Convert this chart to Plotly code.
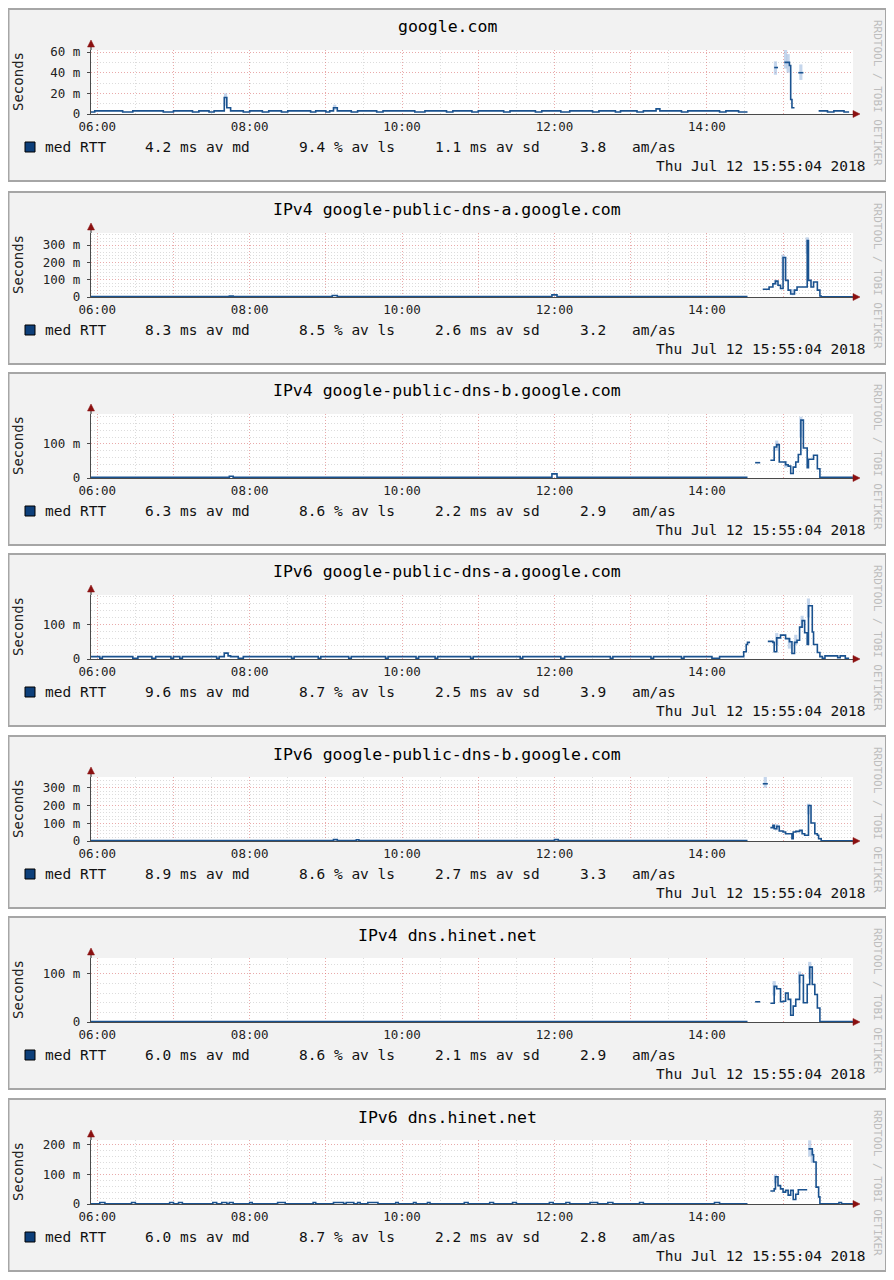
import pandas as pd
import plotly.graph_objects as go

DAY = "2018-07-12 "
X_START = DAY + "05:55:04"
X_END = DAY + "15:55:04"

titles = [
    "google.com",
    "IPv4 google-public-dns-a.google.com",
    "IPv4 google-public-dns-b.google.com",
    "IPv6 google-public-dns-a.google.com",
    "IPv6 google-public-dns-b.google.com",
    "IPv4 dns.hinet.net",
    "IPv6 dns.hinet.net",
]
stat_md = ["4.2", "8.3", "6.3", "9.6", "8.9", "6.0", "6.0"]
stat_ls = ["9.4", "8.5", "8.6", "8.7", "8.6", "8.6", "8.7"]
stat_sd = ["1.1", "2.6", "2.2", "2.5", "2.7", "2.1", "2.2"]
stat_amas = ["3.8", "3.2", "2.9", "3.9", "3.3", "2.9", "2.8"]
stamp = "Thu Jul 12 15:55:04 2018"

y_max = [62, 370, 188, 185, 360, 133, 216]
y_ticks = [[0, 20, 40, 60], [0, 100, 200, 300], [0, 100], [0, 100],
           [0, 100, 200, 300], [0, 100], [0, 100, 200]]
y_minor = [10, 20, 20, 20, 20, 20, 20]
x_hours = ["06:00", "07:00", "08:00", "09:00", "10:00", "11:00", "12:00",
           "13:00", "14:00", "15:00"]
x_labels = ["06:00", "", "08:00", "", "10:00", "", "12:00", "", "14:00", ""]

# ---- median RTT (ms), change points; None = no data ----
p1_t = ["05:55", "05:58", "06:20", "06:28", "06:52", "07:00", "07:15", "07:20", "07:28", "07:32",
        "07:40", "07:42", "07:45", "07:55", "08:00", "08:10", "08:15", "08:25", "08:30", "08:48",
        "08:52", "09:00", "09:03", "09:06", "09:09", "09:20", "09:25", "09:40", "09:45", "10:10",
        "10:18", "10:35", "10:40", "10:55", "11:00", "11:20", "11:25", "11:45", "11:50", "12:05",
        "12:12", "12:30", "12:35", "12:48", "12:52", "13:05", "13:10", "13:20", "13:23", "13:40",
        "13:45", "14:10", "14:15", "14:25", "14:32", "14:53", "14:56", "15:01", "15:05", "15:06",
        "15:07", "15:09", "15:12", "15:16", "15:28", "15:35", "15:40", "15:48", "15:52"]
p1_v = [2, 3, 2, 3, 2, 3, 2, 3, 2, 3,
        16, 6, 3, 2, 3, 2, 3, 2, 3, 2,
        3, 2, 3, 6, 3, 2, 3, 2, 3, 2,
        3, 2, 3, 2, 3, 2, 3, 2, 3, 2,
        3, 2, 3, 2, 3, 2, 3, 5, 3, 2,
        3, 2, 3, 2, None, 45, None, 50, 47, 14,
        6, None, 40, None, 3, 2, 3, 2, None]

p2_t = ["05:55", "07:44", "07:47", "09:05", "09:09", "11:58", "12:02", "14:32", "14:44", "14:49",
        "14:52", "14:54", "14:56", "14:58", "15:00", "15:02", "15:04", "15:06", "15:09", "15:11",
        "15:19", "15:20", "15:22", "15:24", "15:27", "15:29", "15:30", "15:55"]
p2_v = [2, 5, 2, 9, 2, 12, 2, None, 45, 58,
        77, 92, 68, 49, 228, 96, 40, 17, 40, 58,
        326, 96, 58, 87, 40, 6, 1, 1]

p3_t = ["05:55", "07:44", "07:47", "11:58", "12:02", "14:32", "14:38", "14:42", "14:50", "14:53",
        "14:55", "14:57", "15:02", "15:04", "15:06", "15:08", "15:10", "15:12", "15:14", "15:16",
        "15:19", "15:20", "15:24", "15:27", "15:29", "15:55"]
p3_v = [2, 5, 2, 12, 2, None, 45, None, 52, 91,
        98, 47, 39, 35, 13, 32, 47, 69, 170, 88,
        30, 55, 67, 27, 2, 2]

p4_t = ["05:55", "06:02", "06:04", "06:28", "06:32", "06:43", "06:46", "06:58", "07:00", "07:05",
        "07:07", "07:34", "07:36", "07:40", "07:43", "07:45", "07:51", "07:55", "08:33", "08:35",
        "08:54", "08:56", "09:18", "09:20", "09:47", "09:49", "10:11", "10:13", "10:26", "10:28",
        "10:54", "10:56", "11:33", "11:35", "12:05", "12:08", "12:44", "12:46", "13:16", "13:18",
        "13:40", "13:42", "14:04", "14:10", "14:29", "14:31", "14:32", "14:34", "14:48", "14:52",
        "14:53", "14:55", "14:58", "15:02", "15:05", "15:07", "15:09", "15:11", "15:13", "15:15",
        "15:17", "15:19", "15:20", "15:23", "15:24", "15:27", "15:29", "15:31", "15:33", "15:43",
        "15:45", "15:49", "15:52"]
p4_v = [7, 2, 7, 2, 7, 2, 7, 2, 7, 2,
        7, 2, 7, 17, 9, 7, 2, 7, 2, 7,
        2, 7, 2, 7, 2, 7, 2, 7, 2, 7,
        2, 7, 2, 7, 2, 7, 2, 7, 2, 7,
        2, 7, 2, 7, 21, 42, 48, None, 51, 48,
        21, 61, 69, 59, 50, 16, 48, 54, 92, 111,
        76, 42, 154, 78, 42, 19, 7, 2, 9, 4,
        9, 2, None]

p5_t = ["05:55", "09:06", "09:09", "09:24", "09:26", "12:00", "12:03", "14:32", "14:44", "14:48",
        "14:50", "14:52", "14:53", "14:55", "14:57", "15:00", "15:02", "15:07", "15:08", "15:10",
        "15:13", "15:15", "15:17", "15:20", "15:22", "15:25", "15:27", "15:28", "15:30", "15:55"]
p5_v = [2, 8, 2, 7, 2, 8, 2, None, 322, None,
        75, 88, 69, 82, 56, 51, 41, 13, 51, 54,
        60, 41, 32, 200, 101, 41, 32, 13, 1, 1]

p6_t = ["05:55", "14:32", "14:38", "14:42", "14:50", "14:53", "14:55", "14:58", "15:00", "15:02",
        "15:04", "15:06", "15:08", "15:10", "15:13", "15:16", "15:19", "15:21", "15:23", "15:25",
        "15:27", "15:29", "15:55"]
p6_v = [1, None, 42, None, 39, 74, 69, 42, 43, 60,
        47, 14, 33, 47, 97, 40, 78, 114, 78, 57,
        29, 1, 1]

p7_t = ["05:55", "06:02", "06:06", "06:27", "06:30", "06:57", "07:00", "07:04", "07:07", "07:31",
        "07:34", "07:38", "07:42", "07:44", "07:47", "08:00", "08:02", "08:22", "08:28", "08:50",
        "08:52", "09:06", "09:14", "09:16", "09:22", "09:25", "09:27", "09:33", "09:41", "09:55",
        "09:57", "10:09", "10:11", "10:20", "10:22", "10:49", "10:52", "11:09", "11:12", "11:27",
        "11:30", "11:56", "11:59", "12:09", "12:12", "12:28", "12:34", "12:42", "12:46", "13:07",
        "13:10", "14:06", "14:10", "14:32", "14:50", "14:53", "14:54", "14:56", "14:58", "15:00",
        "15:02", "15:04", "15:06", "15:08", "15:10", "15:12", "15:19", "15:20", "15:23", "15:24",
        "15:26", "15:28", "15:29", "15:44", "15:46", "15:55"]
p7_v = [1, 5, 1, 5, 1, 5, 1, 5, 1, 5,
        1, 5, 1, 5, 1, 5, 1, 5, 1, 5,
        1, 5, 1, 5, 1, 5, 1, 5, 1, 5,
        1, 5, 1, 5, 1, 5, 1, 5, 1, 5,
        1, 5, 1, 5, 1, 5, 1, 5, 1, 5,
        1, 5, 1, None, 44, 51, 92, 62, 51, 40,
        46, 30, 46, 15, 33, 48, None, 186, 166, 142,
        57, 24, 1, 5, 1, 1]

# ---- smoke (spread of pings, ms) ----
p1_st = ["07:41", "09:07", "14:54", "15:02", "15:04", "15:14"]
p1_lo = [8, 4, 38, 44, 40, 33]
p1_hi = [20, 9, 51, 62, 58, 48]
p2_st = ["14:54", "15:00", "15:08", "15:19"]
p2_lo = [70, 100, 10, 250]
p2_hi = [100, 245, 45, 345]
p3_st = ["14:55", "15:02", "15:14"]
p3_lo = [80, 30, 120]
p3_hi = [110, 50, 180]
p4_st = ["14:55", "15:05", "15:10", "15:15", "15:20"]
p4_lo = [40, 30, 40, 90, 120]
p4_hi = [75, 60, 70, 125, 175]
p5_st = ["14:46", "14:55", "15:20"]
p5_lo = [300, 60, 150]
p5_hi = [360, 95, 210]
p6_st = ["14:53", "15:13", "15:21"]
p6_lo = [55, 80, 90]
p6_hi = [85, 105, 125]
p7_st = ["14:54", "15:21", "15:23"]
p7_lo = [70, 160, 140]
p7_hi = [100, 215, 180]

series_t = [p1_t, p2_t, p3_t, p4_t, p5_t, p6_t, p7_t]
series_v = [p1_v, p2_v, p3_v, p4_v, p5_v, p6_v, p7_v]
smoke_t = [p1_st, p2_st, p3_st, p4_st, p5_st, p6_st, p7_st]
smoke_lo = [p1_lo, p2_lo, p3_lo, p4_lo, p5_lo, p6_lo, p7_lo]
smoke_hi = [p1_hi, p2_hi, p3_hi, p4_hi, p5_hi, p6_hi, p7_hi]

# ---- layout geometry (page pixels; the page body keeps its 8px margin) ----
PAGE_W, PAGE_H = 894, 1280
M = 8
W, H = PAGE_W - 2 * M, PAGE_H - 2 * M
tops = [9, 192, 373, 554, 736, 917, 1099]
PL, PR = 91, 853
FONT = "DejaVu Sans Mono"
LINE = "#1a528f"
SMOKE = "rgba(150,180,220,0.55)"
MAJ = "rgba(255,90,90,0.38)"
MIN = "rgba(140,140,140,0.30)"
DOTS = "1px,2px"
AX = "#4a4a4a"
ARROW = "#8b1010"


def px(x):
    return (x - M) / W


def py(y):
    return 1 - (y - M) / H


def full(t):
    return pd.Timestamp(DAY + t)


def step_xy(ts, vs):
    xs, ys, prev = [], [], None
    for t, v in zip(ts, vs):
        if v is None:
            if prev is not None:
                xs.append(full(t)); ys.append(prev)
            xs.append(full(t)); ys.append(None)
        else:
            xs.append(full(t)); ys.append(v)
        prev = v
    return xs, ys


fig = go.Figure()
shapes, annos = [], []
layout = {}
plot_w = PR - PL
plot_h = 64

for k in range(7):
    T = tops[k]
    n = "" if k == 0 else str(k + 1)
    xa, ya = "x" + n, "y" + n

    # panel box and white plot area
    shapes.append(dict(type="rect", xref="paper", yref="paper", x0=px(8.5), x1=px(886),
                       y0=py(T + 172), y1=py(T), fillcolor="#f2f2f2",
                       line=dict(color="#a6a6a6", width=2), layer="below"))
    shapes.append(dict(type="rect", xref="paper", yref="paper", x0=px(PL), x1=px(PR),
                       y0=py(T + 105), y1=py(T + 41), fillcolor="#ffffff",
                       line=dict(width=0), layer="below"))

    # smoke
    fig.add_trace(go.Bar(x=[full(t) for t in smoke_t[k]],
                         y=[h - l for h, l in zip(smoke_hi[k], smoke_lo[k])],
                         base=smoke_lo[k], width=150000, marker_color=SMOKE,
                         marker_line_width=0, xaxis=xa, yaxis=ya, showlegend=False,
                         hoverinfo="skip"))
    xs, ys = step_xy(series_t[k], series_v[k])
    fig.add_trace(go.Scatter(x=xs, y=ys, mode="lines", line=dict(color=LINE, width=1.6, shape="hv"),
                             connectgaps=False, xaxis=xa, yaxis=ya, showlegend=False))

    layout["xaxis" + n] = dict(
        domain=[px(PL), px(PR)], anchor=ya, type="date", automargin=False,
        range=[X_START, X_END], tickmode="array",
        tickvals=[full(h) for h in x_hours], ticktext=x_labels,
        showgrid=True, gridcolor=MAJ, griddash=DOTS, gridwidth=1,
        minor=dict(dtick=1800000, tick0=DAY + "05:30", showgrid=True,
                   gridcolor=MIN, griddash=DOTS, gridwidth=1),
        showline=True, linecolor=AX, linewidth=1.2, ticks="",
        tickfont=dict(family=FONT, size=12.5, color="#222"),
        ticklabelstandoff=1, zeroline=False, fixedrange=True)
    layout["yaxis" + n] = dict(
        domain=[py(T + 105), py(T + 41)], anchor=xa, range=[0, y_max[k]],
        automargin=False, tickmode="array", tickvals=y_ticks[k],
        ticktext=[("%d m" % v) if v else "0" for v in y_ticks[k]],
        showgrid=True, gridcolor=MAJ, griddash=DOTS, gridwidth=1,
        minor=dict(dtick=y_minor[k], tick0=0, showgrid=True, gridcolor=MIN,
                   griddash=DOTS, gridwidth=1),
        showline=True, linecolor=AX, linewidth=1.2, ticks="outside", ticklen=3,
        tickcolor=AX, tickfont=dict(family=FONT, size=12.5, color="#222"),
        ticklabelstandoff=4, zeroline=False, fixedrange=True)

    # axis extension and arrowheads
    shapes.append(dict(type="line", xref=xa + " domain", yref=ya + " domain",
                       x0=0, x1=0, y0=1, y1=1 + 8 / plot_h, line=dict(color=AX, width=1.2)))
    shapes.append(dict(type="path", xref=xa + " domain", yref=ya + " domain",
                       path="M %f,%f L %f,%f L %f,%f Z" % (
                           -3.5 / plot_w, 1 + 3 / plot_h, 3.5 / plot_w, 1 + 3 / plot_h,
                           0, 1 + 10 / plot_h),
                       fillcolor=ARROW, line=dict(color=ARROW, width=0.5)))
    shapes.append(dict(type="path", xref=xa + " domain", yref=ya + " domain",
                       path="M %f,%f L %f,%f L %f,%f Z" % (
                           1 + 0 / plot_w, 3.5 / plot_h, 1 + 0 / plot_w, -3.5 / plot_h,
                           1 + 7 / plot_w, 0),
                       fillcolor=ARROW, line=dict(color=ARROW, width=0.5)))

    # legend square
    shapes.append(dict(type="rect", xref="paper", yref="paper", x0=px(25), x1=px(35),
                       y0=py(T + 143), y1=py(T + 133), fillcolor="#0d3f7a",
                       line=dict(color="#000", width=1)))

    def txt(x, y, s, size=14.5, anchor="left", color="#111", angle=0):
        annos.append(dict(xref="paper", yref="paper", x=px(x), y=py(y), text=s,
                          showarrow=False, xanchor=anchor, yanchor="middle",
                          textangle=angle,
                          font=dict(family=FONT, size=size, color=color)))

    txt(447, T + 18, titles[k], size=16.5, anchor="center", color="#000")
    txt(18, T + 73, "Seconds", size=14, anchor="center", color="#222", angle=-90)
    txt(878, T + 84, "RRDTOOL / TOBI OETIKER", size=11, anchor="center",
        color="#bdbdbd", angle=90)
    txt(43, T + 138, "med RTT")
    txt(143, T + 138, stat_md[k] + " ms av md")
    txt(297, T + 138, stat_ls[k] + " % av ls")
    txt(433, T + 138, stat_sd[k] + " ms av sd")
    txt(578, T + 138, stat_amas[k])
    txt(630, T + 138, "am/as")
    txt(868, T + 157, stamp, anchor="right")

fig.update_layout(width=W, height=H, margin=dict(l=0, r=0, t=0, b=0, pad=0),
                  paper_bgcolor="#ffffff", plot_bgcolor="#ffffff",
                  barmode="overlay", showlegend=False, shapes=shapes, annotations=annos,
                  font=dict(family=FONT), **layout)

fig.write_html("out.html", config={"displayModeBar": False})
